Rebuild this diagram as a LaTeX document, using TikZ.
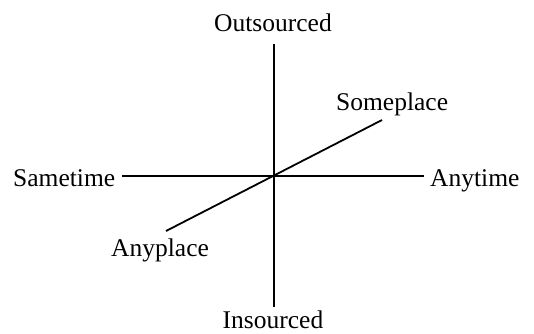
\documentclass[tikz,border=0pt]{standalone}
\usepackage{fontspec}
\setmainfont{Liberation Serif}
\begin{document}
\begin{tikzpicture}[x=1pt,y=-1pt,
  lbl/.style={inner sep=0pt,font=\fontsize{25.5}{30}\selectfont},
  axis/.style={line width=1.8pt}]
\useasboundingbox (0,0) rectangle (534,333);
\node[lbl,anchor=base] (out) at (273,31) {Outsourced};
\node[lbl,anchor=base] (ins) at (273,328) {Insourced};
\node[lbl,anchor=base west] (same) at (13,186) {Sametime};
\node[lbl,anchor=base west] (any) at (430,186) {Anytime};
\node[lbl,anchor=base west] (some) at (336,110) {Someplace};
\node[lbl,anchor=base west] (anyp) at (111,256) {Anyplace};
\coordinate (c) at (274,176);
\coordinate (top) at (274,44);
\coordinate (bot) at (274,307);
\coordinate (left) at (122,176);
\coordinate (right) at (424,176);
\coordinate (dl) at (166,231);
\coordinate (ur) at (382,120);
\draw[axis] (top) -- (bot);
\draw[axis] (left) -- (right);
\draw[axis] (dl) -- (ur);
\end{tikzpicture}
\end{document}
